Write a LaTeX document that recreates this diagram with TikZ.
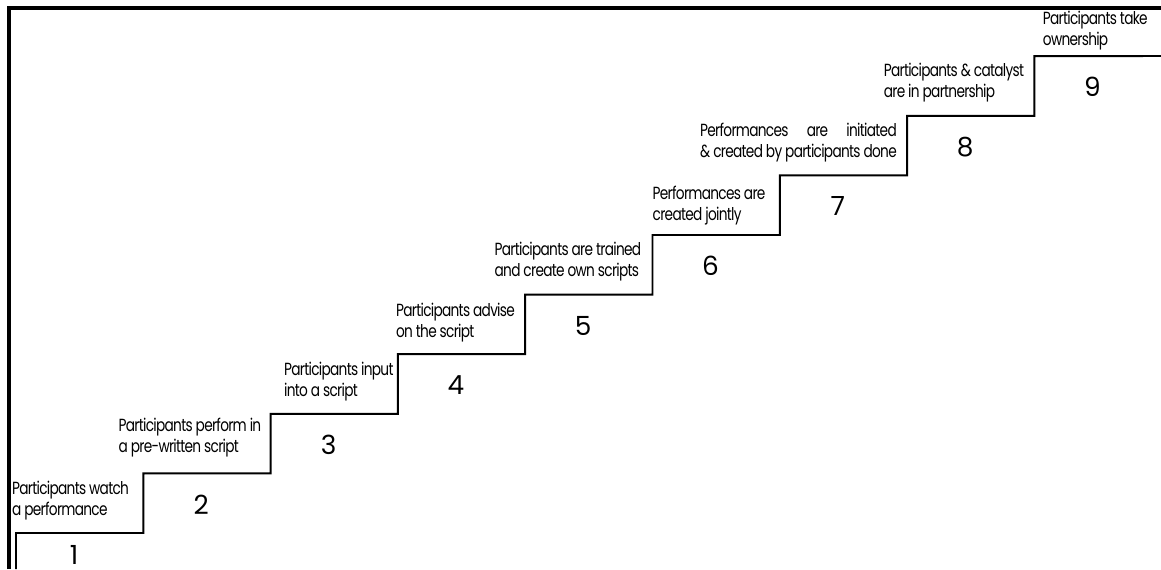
\documentclass[tikz,border=0pt]{standalone}
\usepackage{fontspec}
\usepackage{calc}
\newfontfamily\stepfont{Poppins}[FakeStretch=0.78, LetterSpace=-4]
\newfontfamily\numfont{Poppins}
\usetikzlibrary{calc, positioning}

\begin{document}
\begin{tikzpicture}[x=0.02cm, y=-0.02cm, every node/.style={inner sep=0pt},
  steplabel/.style={font=\stepfont\fontsize{10}{12}\selectfont, align=left, anchor=south east},
  stepnum/.style={font=\numfont\fontsize{15}{15}\selectfont}]
  \useasboundingbox (0,0) rectangle (1161,569);
  % frame
  \draw[line width=1.8pt] (9,569) -- (9,8) -- (1161,8);
  % stair corners
  \coordinate (s0) at (16,569);
  \foreach \i in {1,...,9} \coordinate (r\i) at ({16+127.3*(\i-1)},{533-59.6*(\i-1)});
  \coordinate (r10) at (1161,56);
  \draw[line width=1.1pt] (s0) -- (r1) \foreach \i in {2,...,9} { -| (r\i) } -- (r10);
  % step numbers
  \node[stepnum] (n1) at ($(r1)+(58,22)$) {1};
  \foreach \i in {2,...,9} \node[stepnum] (n\i) at ($(r\i)+(58,31)$) {\i};
  % step texts
  \node[steplabel] (t1) at ($(r1 -| r2)+(-14,-13)$) {Participants watch\\a performance};
  \node[steplabel] (t2) at ($(r2 -| r3)+(-9,-16)$) {Participants perform in\\a pre-written script};
  \node[steplabel] (t3) at ($(r3 -| r4)+(-4,-12)$) {Participants input\\into a script};
  \node[steplabel] (t4) at ($(r4 -| r5)+(-10,-12)$) {Participants advise\\on the script};
  \node[steplabel] (t5) at ($(r5 -| r6)+(-11,-13)$) {Participants are trained\\and create own scripts};
  \node[steplabel] (t6) at ($(r6 -| r7)+(-14,-10)$) {Performances are\\created jointly};
  \node[steplabel] (t7) at ($(r7 -| r8)+(-10,-13)$) {\makebox[\widthof{\& created by participants done}][s]{Performances are initiated}\\\& created by participants done};
  \node[steplabel] (t8) at ($(r8 -| r9)+(-10,-13)$) {Participants \& catalyst\\are in partnership};
  \node[steplabel] (t9) at ($(r9 -| r10)+(-13,-6)$) {Participants take\\ownership};
\end{tikzpicture}
\end{document}
